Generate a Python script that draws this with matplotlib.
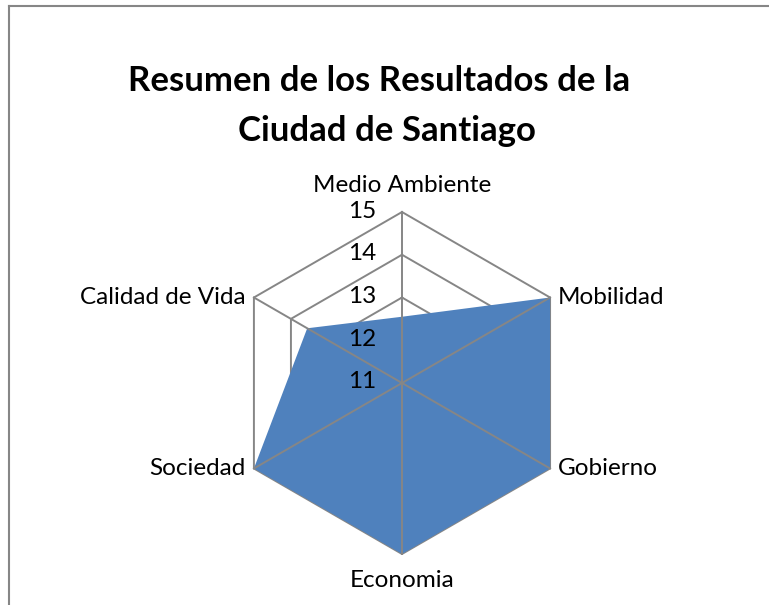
import numpy as np
import matplotlib.pyplot as plt
from matplotlib.lines import Line2D

# ── Data ──────────────────────────────────────────────────────────
categories = ["Medio Ambiente", "Mobilidad", "Gobierno",
              "Economia", "Sociedad", "Calidad de Vida"]
values = [12.55, 15, 15, 15, 15, 13.56]
ticks = [11, 12, 13, 14, 15]
title_lines = ["Resumen de los Resultados de la", "Ciudad de Santiago"]

FONT = "Lato"
GRID = "#868686"
FILL = "#4F81BD"

fig = plt.figure(figsize=(7.69, 6.05), dpi=100)
ax = fig.add_axes([0.3004, 0.0843, 0.4447, 0.5653], projection="polar")
ax.set_theta_offset(np.pi / 2)
ax.set_theta_direction(-1)
ax.set_ylim(ticks[0], ticks[-1])
ax.grid(False)
ax.spines["polar"].set_visible(False)
ax.set_xticks([])
ax.set_yticks([])
ax.patch.set_alpha(0)

theta = np.linspace(0, 2 * np.pi, len(categories), endpoint=False)
closed = np.append(theta, theta[0])

# rings (behind the fill)
for t in ticks[1:]:
    ax.plot(closed, [t] * len(closed), color=GRID, lw=1.4, zorder=1,
            clip_on=False)

# filled series
vals = np.append(values, values[0])
ax.fill(closed, vals, color=FILL, zorder=2, clip_on=False, lw=0)

# spokes (over the fill)
for th in theta:
    ax.plot([th, th], [ticks[0], ticks[-1]], color=GRID, lw=1.4, zorder=3,
            clip_on=False)

# radial tick labels
for t in ticks:
    ax.annotate(str(t), (0, t), xytext=(-26, 1), textcoords="offset pixels",
                ha="right", va="center", fontsize=17.5, family=FONT,
                annotation_clip=False)

# category labels
offsets = [(0, 27, "center"), (8, 0, "left"), (8, 0, "left"),
           (0, -27, "center"), (-8, 0, "right"), (-8, 0, "right")]
for th, name, (dx, dy, ha) in zip(theta, categories, offsets):
    ax.annotate(name, (th, ticks[-1]), xytext=(dx, dy),
                textcoords="offset pixels", ha=ha, va="center",
                fontsize=17.5, family=FONT, annotation_clip=False)

# title (Excel wraps with a trailing space, so line 1 sits a bit left)
for line, cx, base in zip(title_lines, [379.5, 387], [91, 141]):
    fig.text(cx / 769, 1 - base / 605, line, ha="center", va="baseline",
             fontsize=25, fontweight="bold", family=FONT)

# chart-area border (only left and top edges visible in the crop)
fig.add_artist(Line2D([8.5 / 769, 8.5 / 769], [0, 1 - 5.5 / 605],
                      color="#868686", lw=1.5))
fig.add_artist(Line2D([8.5 / 769, 1], [1 - 5.5 / 605, 1 - 5.5 / 605],
                      color="#868686", lw=1.5))

fig.savefig("out.png", dpi=100)
